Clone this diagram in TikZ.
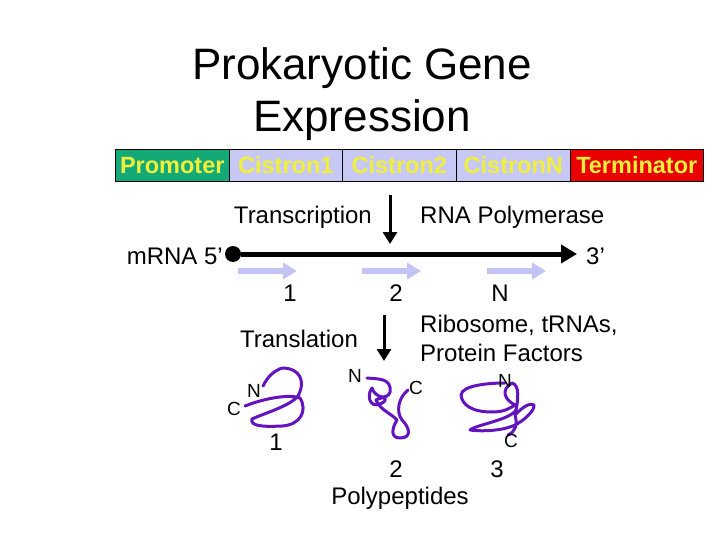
\documentclass[tikz,border=0pt]{standalone}
\usepackage{fontspec}
\setmainfont{Liberation Sans}
\usetikzlibrary{arrows.meta}
\definecolor{prom}{RGB}{20,170,120}
\definecolor{cis}{RGB}{200,200,245}
\definecolor{yel}{RGB}{240,240,60}
\definecolor{term}{RGB}{235,0,0}
\definecolor{lav}{RGB}{195,195,245}
\definecolor{purp}{RGB}{100,20,190}
\begin{document}
\begin{tikzpicture}[x=1pt,y=-1pt,
  seg/.style={draw=black,line width=0.6pt,minimum height=32pt,inner sep=0pt,anchor=north west,font=\fontsize{23.5}{24}\selectfont\bfseries},
  lbl/.style={font=\fontsize{24}{29}\selectfont,inner sep=1pt},
  sml/.style={font=\fontsize{19}{20}\selectfont,inner sep=1pt},
  light/.style={draw=lav,line width=6pt,-{Triangle[length=14pt,width=16pt]}},
  prot/.style={draw=purp,line width=3pt,line cap=round,line join=round}]
\useasboundingbox (0,0) rectangle (720,540);
\node[font=\fontsize{44}{52}\selectfont,align=center] (title) at (362,94) {Prokaryotic Gene\\Expression};
\node[seg,fill=prom,text=yel,minimum width=114pt] (p) at (115,149) {Promoter};
\node[seg,fill=cis,text=yel,minimum width=113pt] (c1) at (229,149) {Cistron1};
\node[seg,fill=cis,text=yel,minimum width=114pt] (c2) at (342,149) {Cistron2};
\node[seg,fill=cis,text=yel,minimum width=114pt] (cn) at (456,149) {CistronN};
\node[seg,fill=term,text=yel,minimum width=133pt] (t) at (570,149) {Terminator};
\coordinate (a1) at (390,195); \coordinate (a2) at (390,244);
\draw[line width=3pt,-{Triangle[length=12pt,width=14pt]}] (a1) -- (a2);
\node[lbl,anchor=east] (tr) at (373,217) {Transcription};
\node[lbl,anchor=west] (rp) at (419,217) {RNA Polymerase};
\node[circle,fill=black,minimum size=16pt,inner sep=0pt] (dot) at (233,254) {};
\coordinate (mend) at (577,254);
\draw[line width=5pt,-{Triangle[length=16pt,width=18pt]}] (dot) -- (mend);
\node[lbl,anchor=east] (m5) at (224,256) {mRNA 5’};
\node[lbl,anchor=west] (m3) at (585,256) {3’};
\coordinate (l1a) at (238,271); \coordinate (l1b) at (297,271);
\coordinate (l2a) at (362,271); \coordinate (l2b) at (421,271);
\coordinate (l3a) at (487,271); \coordinate (l3b) at (546,271);
\draw[light] (l1a)--(l1b); \draw[light] (l2a)--(l2b); \draw[light] (l3a)--(l3b);
\node[lbl] (n1) at (290,293) {1};
\node[lbl] (n2) at (396,293) {2};
\node[lbl] (nN) at (500,293) {N};
\coordinate (b1) at (384,315); \coordinate (b2) at (384,361);
\draw[line width=3pt,-{Triangle[length=12pt,width=14pt]}] (b1) -- (b2);
\node[lbl] (trl) at (299,339) {Translation};
\node[lbl,anchor=west,align=left] (rib) at (419,338) {Ribosome, tRNAs,\\Protein Factors};
% protein 1
\draw[prot] (245,406) .. controls (265,398) and (290,394) .. (300,398) .. controls (308,411) and (300,425) .. (282,426) .. controls (262,427) and (250,426) .. (252,419) .. controls (265,413) and (290,406) .. (298,396) .. controls (306,381) and (300,368) .. (282,368) .. controls (274,371) and (268,376) .. (263,386);
\node[sml] (pc1) at (234,409) {C};
\node[sml] (pn1) at (254,391) {N};
\node[lbl] (q1) at (276,442) {1};
% protein 2
\draw[prot] (367,378) .. controls (378,379) and (392,378) .. (390,392) .. controls (388,400) and (375,398) .. (372,388) .. controls (366,396) and (370,408) .. (380,404) .. controls (390,400) and (385,395) .. (376,400) .. controls (380,410) and (392,414) .. (397,420) .. controls (392,428) and (390,438) .. (400,438) .. controls (412,438) and (410,428) .. (402,420) .. controls (396,412) and (398,398) .. (408,390);
\node[sml] (pn2) at (355,376) {N};
\node[sml] (pc2) at (416,388) {C};
\node[lbl] (q2) at (396,469) {2};
% protein 3
\draw[prot] (505,383) .. controls (490,383) and (462,385) .. (461,395) .. controls (462,405) and (472,412) .. (492,412) .. controls (505,412) and (510,408) .. (515,405) .. controls (505,400) and (500,390) .. (512,383) .. controls (520,385) and (518,400) .. (516,410) .. controls (510,420) and (475,425) .. (470,430) .. controls (485,432) and (505,430) .. (515,425) .. controls (525,420) and (535,410) .. (534,405) .. controls (528,402) and (520,410) .. (515,415) .. controls (518,425) and (515,432) .. (508,435);
\node[sml] (pn3) at (505,381) {N};
\node[sml] (pc3) at (511,441) {C};
\node[lbl] (q3) at (497,469) {3};
\node[lbl] (poly) at (400,498) {Polypeptides};
\end{tikzpicture}
\end{document}
